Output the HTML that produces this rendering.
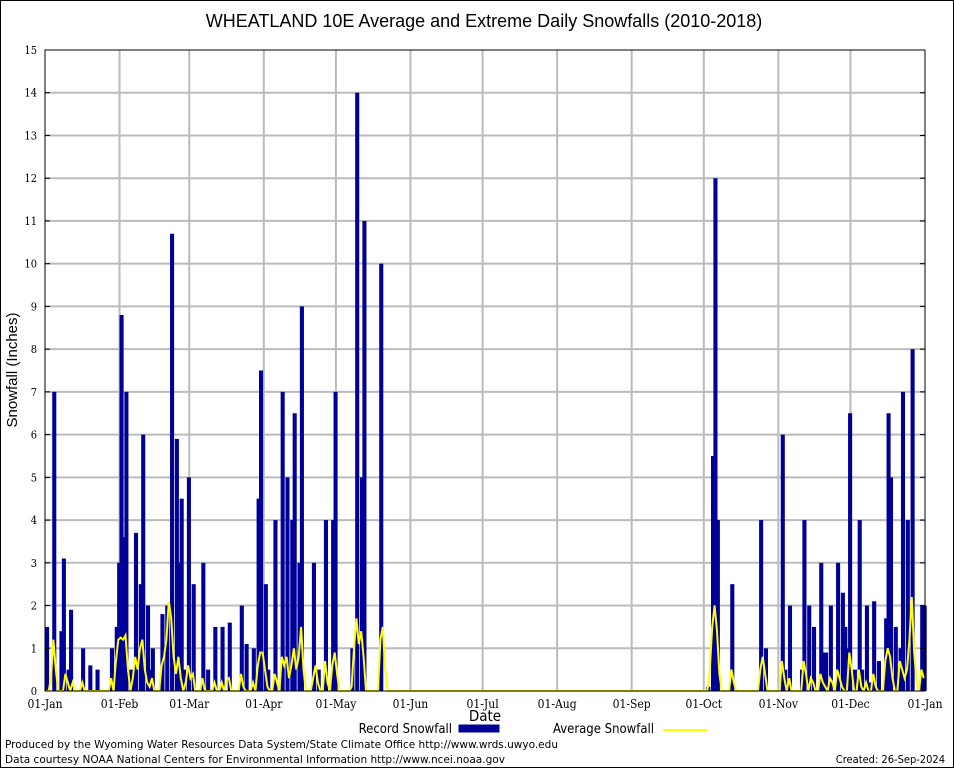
<!DOCTYPE html>
<html><head><meta charset="utf-8"><style>
html,body{margin:0;padding:0;background:#fff;}
svg{display:block;}
.tk{font-family:"DejaVu Serif Condensed","Liberation Serif",serif;font-size:12px;fill:#000;}
.ft{font-family:"DejaVu Sans Condensed","Liberation Sans Narrow","Liberation Sans",sans-serif;font-size:11px;fill:#000;}
</style></head><body>
<svg id="chart" width="954" height="768" viewBox="0 0 954 768" xmlns="http://www.w3.org/2000/svg">
<rect x="0.5" y="0.5" width="953" height="767" fill="#fff" stroke="#000"/>
<text x="484" y="27" text-anchor="middle" font-family="Liberation Sans, sans-serif" font-size="18">WHEATLAND 10E Average and Extreme Daily Snowfalls (2010-2018)</text>
<g id="grid"></g>
<g id="bars"></g>
<polyline id="avg" fill="none" stroke="#ffff00" stroke-width="2"/>
<rect x="45" y="50" width="880" height="641" fill="none" stroke="#000"/>
<g id="ticks"></g>
<text x="17" y="370" text-anchor="middle" transform="rotate(-90 17 370)" font-family="Liberation Sans, sans-serif" font-size="15">Snowfall (Inches)</text>
<text x="485" y="721" text-anchor="middle" font-family="DejaVu Sans Condensed, Liberation Sans, sans-serif" font-size="15">Date</text>
<g>
<text class="ft" x="452" y="733" text-anchor="end" style="font-size:13px">Record Snowfall</text>
<rect x="459" y="725" width="40" height="7" fill="#000099" stroke="#000099"/>
<text class="ft" x="654" y="733" text-anchor="end" style="font-size:13px">Average Snowfall</text>
<line x1="663" y1="730" x2="707" y2="730" stroke="#ffff00" stroke-width="2"/>
</g>
<text class="ft" x="5" y="748" textLength="553" lengthAdjust="spacingAndGlyphs">Produced by the Wyoming Water Resources Data System/State Climate Office http://www.wrds.uwyo.edu</text>
<text class="ft" x="5" y="763" textLength="500" lengthAdjust="spacingAndGlyphs">Data courtesy NOAA National Centers for Environmental Information http://www.ncei.noaa.gov</text>
<text class="ft" x="945" y="763" text-anchor="end">Created: 26-Sep-2024</text>
</svg>
<script>
const monthLabels = ["01-Jan","01-Feb","01-Mar","01-Apr","01-May","01-Jun","01-Jul","01-Aug","01-Sep","01-Oct","01-Nov","01-Dec","01-Jan"];
const monthStartDays = [0,31,60,91,121,152,182,213,244,274,305,335,366];
const yTicks = [0,1,2,3,4,5,6,7,8,9,10,11,12,13,14,15];
const recordDays = [0,3,6,7,9,10,15,18,21,27,29,30,31,32,33,35,36,37,39,40,42,43,44,48,50,52,54,55,56,57,59,61,65,67,70,73,76,81,83,86,88,89,91,92,95,98,100,102,103,105,106,111,113,116,119,120,127,129,131,132,139,
275,277,278,279,285,297,299,306,307,309,314,315,317,319,322,323,324,326,329,331,332,333,334,336,338,339,341,342,344,346,349,350,351,353,355,356,358,360,364,365];
const recordValues = [1.5,7.0,1.4,3.1,0.5,1.9,1.0,0.6,0.5,1.0,1.5,3.0,8.8,3.6,7.0,0.5,0.5,3.7,2.5,6.0,2.0,0.5,1.0,1.8,2.0,10.7,5.9,3.0,4.5,0.5,5.0,2.5,3.0,0.5,1.5,1.5,1.6,2.0,1.1,1.0,4.5,7.5,2.5,0.5,4.0,7.0,5.0,4.0,6.5,3.0,9.0,3.0,0.5,4.0,4.0,7.0,1.0,14.0,5.0,11.0,10.0,
0.1,5.5,12.0,4.0,2.5,4.0,1.0,6.0,0.5,2.0,0.5,4.0,2.0,1.5,3.0,0.9,0.9,2.0,3.0,2.3,1.5,1.0,6.5,0.5,4.0,0.5,2.0,0.2,2.1,0.7,1.7,6.5,5.0,1.5,1.0,7.0,4.0,8.0,2.0,2.0];
const avgDays = [2,3,4,8,9,11,15,27,29,30,31,32,33,34,36,37,38,39,40,41,42,43,44,48,49,50,51,52,53,54,55,56,58,59,60,61,65,70,73,75,76,81,82,86,88,89,90,91,92,95,96,98,99,100,101,102,103,104,105,106,107,111,112,113,116,117,119,120,121,127,128,129,130,131,132,139,140,141,
276,277,278,279,280,285,286,297,298,299,306,307,309,315,316,318,319,322,323,324,326,327,329,330,331,334,335,338,339,341,344,345,349,350,351,352,355,356,357,358,359,360,361,362,364,365];
const avgValues = [0.3,1.2,0.5,0.4,0.2,0.2,0.2,0.3,0.7,1.2,1.25,1.2,1.3,0.5,0.3,0.8,0.5,1.0,1.2,0.5,0.2,0.1,0.3,0.6,0.8,1.2,2.1,1.7,0.8,0.4,0.8,0.3,0.2,0.6,0.3,0.4,0.3,0.2,0.2,0.25,0.3,0.4,0.1,0.2,0.6,0.9,0.9,0.5,0.1,0.4,0.2,0.8,0.6,0.8,0.3,0.6,1.0,0.5,0.8,1.5,0.5,0.3,0.6,0.2,0.7,0.2,0.6,0.9,0.4,0.1,1.0,1.7,1.1,1.4,0.8,1.2,1.5,0.5,
0.5,1.5,2.0,1.4,0.4,0.5,0.2,0.5,0.8,0.4,0.7,0.3,0.3,0.7,0.4,0.3,0.2,0.4,0.2,0.1,0.3,0.2,0.5,0.3,0.1,0.9,0.5,0.5,0.1,0.2,0.4,0.1,0.7,1.0,0.8,0.3,0.7,0.5,0.3,0.5,1.2,2.2,0.9,0.2,0.5,0.3];

const NS="http://www.w3.org/2000/svg";
const X0=45,X1=925,Y0=691,Y1=50,NDAYS=366,YMAX=15;
const xS=d=>X0+d*(X1-X0)/NDAYS;
const yS=v=>Y0-v*(Y0-Y1)/YMAX;
const dw=(X1-X0)/NDAYS;
function mk(tag,attrs,parent){const e=document.createElementNS(NS,tag);for(const k in attrs)e.setAttribute(k,attrs[k]);parent.appendChild(e);return e;}
const grid=document.getElementById('grid'),ticks=document.getElementById('ticks'),bars=document.getElementById('bars');
yTicks.forEach(t=>{
  if(t>0&&t<YMAX){const g=mk('line',{x1:X0,x2:X1,y1:yS(t),y2:yS(t),stroke:'#bbbbbb','stroke-width':2},grid);
  
  }
  const l=mk('line',{x1:X0,x2:X0+5,y1:yS(t),y2:yS(t),stroke:'#000'},ticks);
  
  
  const r=mk('line',{x1:X1-5,x2:X1,y1:yS(t),y2:yS(t),stroke:'#000'},ticks);
  
  
  const tx=mk('text',{x:37,y:yS(t)+4,'text-anchor':'end',class:'tk',style:'font-size:11px'},ticks);
  tx.textContent=t;
  
  
});
monthStartDays.forEach((d,i)=>{
  if(i>0&&i<monthStartDays.length-1){const g=mk('line',{x1:xS(d),x2:xS(d),y1:Y1,y2:Y0,stroke:'#bbbbbb','stroke-width':2},grid);
  
  }
  const tx=mk('text',{x:xS(d),y:708,'text-anchor':'middle',class:'tk'},ticks);
  tx.textContent=monthLabels[i];
  
  
});
recordDays.forEach((d,i)=>{
  const v=recordValues[i];
  const b=mk('rect',{x:xS(d),y:yS(v),width:dw*1.7,height:Y0-yS(v),fill:'#000099'},bars);
  
  
});
const avgFull=new Array(NDAYS).fill(0);
avgDays.forEach((d,i)=>{avgFull[d]=avgValues[i];});
document.getElementById('avg').setAttribute('points',avgFull.map((v,d)=>xS(d+0.5).toFixed(1)+','+yS(v).toFixed(1)).join(' '));
</script>
</body></html>
